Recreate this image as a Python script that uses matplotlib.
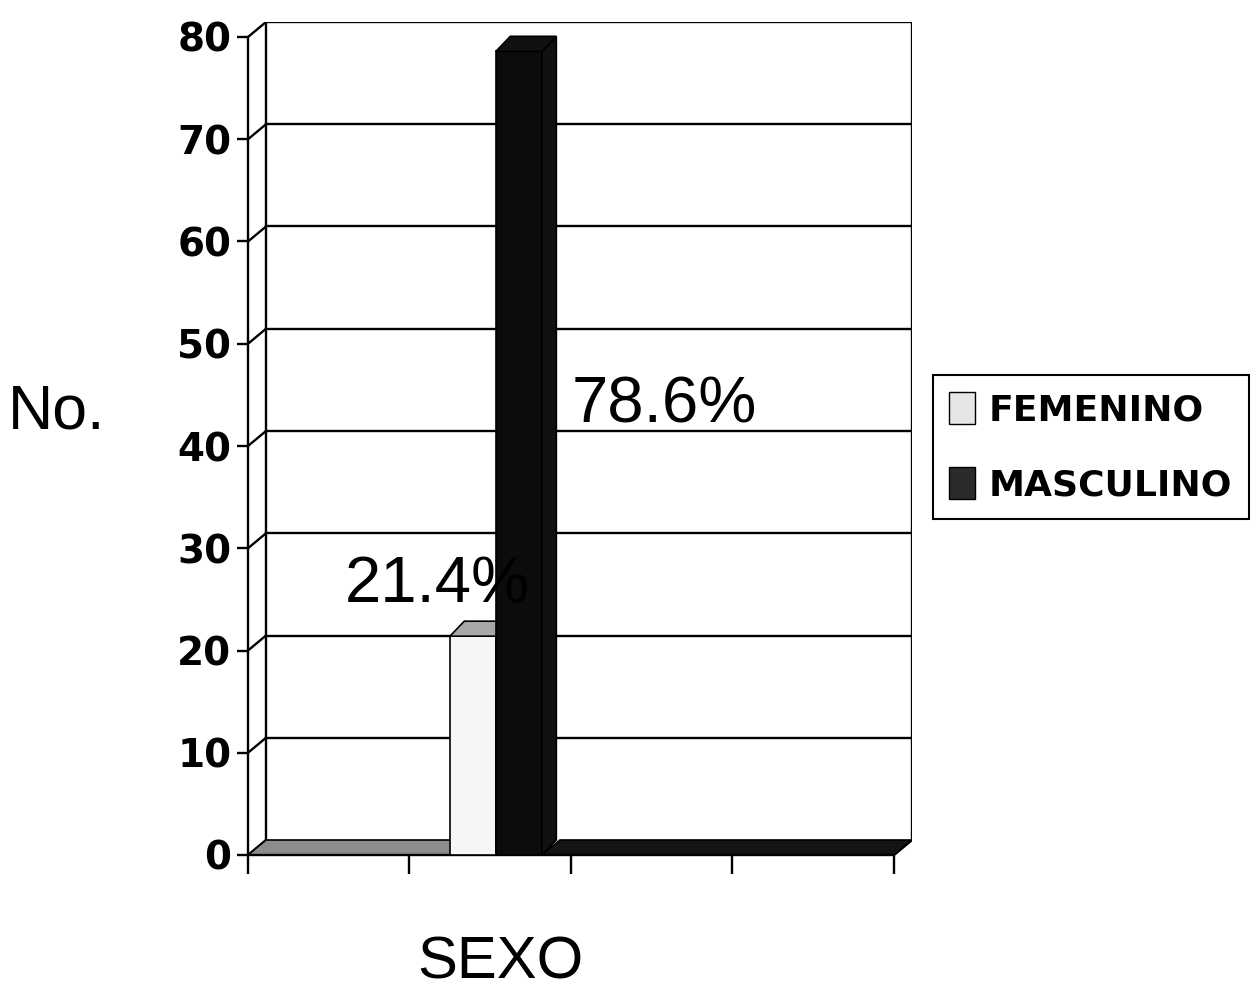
import numpy as np
import matplotlib.pyplot as plt
from matplotlib.patches import Polygon, Patch

# datos
categorias = ['FEMENINO', 'MASCULINO']
valores = [21.4, 78.6]
etiquetas = ['21.4%', '78.6%']
y_ticks = [0, 10, 20, 30, 40, 50, 60, 70, 80]
x_ticks = [0, 1, 2, 3, 4]

col_frente = ['#f6f6f6', '#0c0c0c']
col_tapa = ['#a8a8a8', '#111111']
col_leyenda = ['#e6e6e6', '#2a2a2a']

W, H = 1257, 998
fig = plt.figure(figsize=(W / 100, H / 100), dpi=100)
ax = fig.add_axes([248 / W, (H - 855) / H, (912 - 248) / W, (855 - 22) / H])

# profundidad 3D (pared del fondo)
dx = 4 * 18 / 645
dy = 80 * 15 / 818
ax.set_xlim(0, 4 + dx)
ax.set_ylim(0, 80 + dy)
ax.set_facecolor('none')

lw = 1.7
# pared del fondo y pared izquierda
for v in y_ticks:
    if v > 0:
        ax.plot([dx, 4 + dx], [v + dy, v + dy], color='black', lw=lw, zorder=1)
    ax.plot([0, dx], [v, v + dy], color='black', lw=lw, zorder=1)
ax.plot([dx, dx], [dy, 80 + dy], color='black', lw=lw, zorder=1)
ax.plot([4 + dx, 4 + dx], [dy, 80 + dy], color='black', lw=lw, zorder=1)
ax.plot([4, 4 + dx], [0, dy], color='black', lw=lw, zorder=1)

# barras
ancho = 0.285
pos = 1.535 + (np.arange(len(valores)) - 0.5) * ancho
bdx = dx * 0.8
barras = ax.bar(pos, valores, width=ancho, color=col_frente,
                edgecolor='black', linewidth=1.2, zorder=3)

for i, (b, v) in enumerate(zip(barras, valores)):
    x0, x1 = b.get_x(), b.get_x() + b.get_width()
    tapa = Polygon([(x0, v), (x1, v), (x1 + bdx, v + dy), (x0 + bdx, v + dy)],
                   closed=True, facecolor=col_tapa[i], edgecolor='black',
                   lw=1.2, zorder=3 + i)
    lado = Polygon([(x1, 0), (x1 + bdx, dy), (x1 + bdx, v + dy), (x1, v)],
                   closed=True, facecolor=col_tapa[i], edgecolor='black',
                   lw=1.2, zorder=3 + i)
    ax.add_patch(lado)
    ax.add_patch(tapa)
    b.set_zorder(3 + i)

# piso
xf = barras[0].get_x()
xm = barras[-1].get_x() + barras[-1].get_width()
ax.add_patch(Polygon([(0, 0), (xf, 0), (xf + dx, dy), (dx, dy)], closed=True,
                     facecolor='#8c8c8c', edgecolor='black', lw=1.2, zorder=2))
ax.add_patch(Polygon([(xm, 0), (4, 0), (4 + dx, dy), (xm + dx, dy)], closed=True,
                     facecolor='#141414', edgecolor='black', lw=1.2, zorder=2))

# etiquetas de porcentaje
pos_etq = [(1.17, 26.4), (2.58, 44.0)]
for (px, py), t in zip(pos_etq, etiquetas):
    ax.text(px, py, t, ha='center', va='center', fontsize=47,
            family=['Liberation Sans', 'DejaVu Sans'], color='black', zorder=6)

# ejes
for s in ['top', 'right']:
    ax.spines[s].set_visible(False)
ax.spines['left'].set_bounds(0, 80)
ax.spines['bottom'].set_bounds(0, 4)
ax.spines['left'].set_linewidth(lw)
ax.spines['bottom'].set_linewidth(lw)
ax.set_yticks(y_ticks)
ax.set_yticklabels([str(v) for v in y_ticks], fontsize=28, fontweight='bold',
                   family='DejaVu Sans')
ax.set_xticks(x_ticks)
ax.set_xticklabels([])
ax.tick_params(axis='y', direction='out', length=8, width=lw, pad=4)
ax.tick_params(axis='x', direction='out', length=14, width=lw)

fig.text(57 / W, 1 - 412 / H, 'No.', ha='center', va='center', fontsize=45,
         family=['Liberation Sans Narrow', 'Liberation Sans'])
fig.text(500 / W, 1 - 963 / H, 'SEXO', ha='center', va='center', fontsize=43,
         family=['Liberation Sans Narrow', 'Liberation Sans'])

handles = [Patch(facecolor=c, edgecolor='black', lw=1) for c in col_leyenda]
leg = fig.legend(handles, categorias, loc='center left',
                 bbox_to_anchor=(933 / W, 1 - 447 / H), frameon=True,
                 fancybox=False, edgecolor='black', framealpha=1,
                 prop={'family': 'DejaVu Sans', 'weight': 'bold', 'size': 26},
                 handlelength=0.7, handleheight=1.0, handletextpad=0.4,
                 labelspacing=1.1, borderpad=0.45, borderaxespad=0)
leg.get_frame().set_linewidth(1.5)

fig.savefig('out.png', dpi=100)
